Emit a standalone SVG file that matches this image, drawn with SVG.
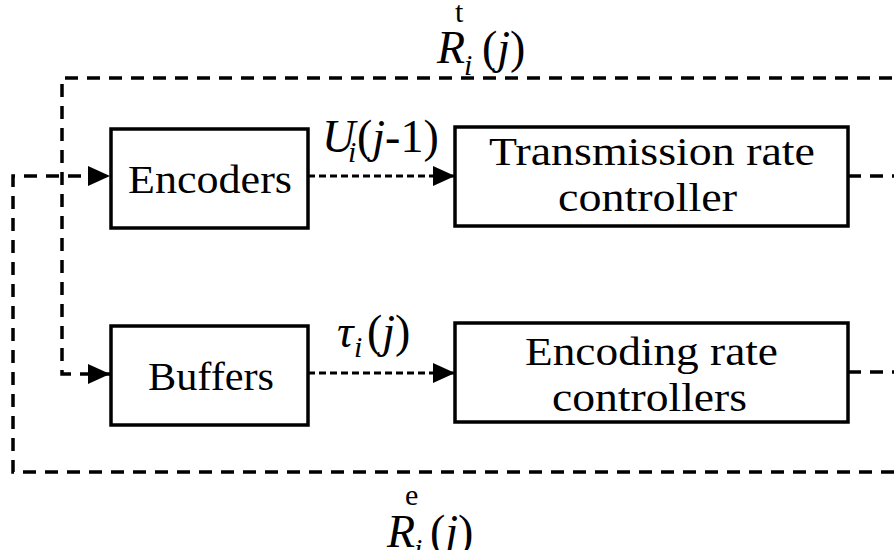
<svg xmlns="http://www.w3.org/2000/svg" width="894" height="550" viewBox="0 0 894 550">
<style>
.box{fill:#fff;stroke:#000;stroke-width:3.5}
.lbl{font-family:'Liberation Serif',serif;font-size:41px;fill:#000}
.math{font-family:'Liberation Serif',serif;font-size:46px;fill:#000}
.it{font-style:italic}
.sm{font-size:30px}
.dash{fill:none;stroke:#000;stroke-width:3.5;stroke-dasharray:13 9}
.dot{fill:none;stroke:#000;stroke-width:3;stroke-dasharray:7 4}
</style>
<defs>
<marker id="arr" viewBox="0 0 22 20" refX="22" refY="10" markerWidth="22" markerHeight="20" markerUnits="userSpaceOnUse" orient="auto">
<path d="M0,0 L22,10 L0,20 Z" fill="#000"/>
</marker>
</defs>
<rect width="894" height="550" fill="#fff"/>
<g id="connectors">
<path class="dash" d="M848,176 H920 V78 H62 V374 H110" marker-end="url(#arr)"/>
<path class="dash" d="M848,372 H920 V472 H13 V176 H110" marker-end="url(#arr)"/>
<path class="dot" d="M308,176 H455" marker-end="url(#arr)"/>
<path class="dot" d="M308,373 H455" marker-end="url(#arr)"/>
</g>
<g id="encoders">
<rect class="box" x="111" y="129" width="197" height="99"/>
<text class="lbl" x="128" y="193" textLength="164" lengthAdjust="spacingAndGlyphs">Encoders</text>
</g>
<g id="buffers">
<rect class="box" x="111" y="326" width="197" height="99"/>
<text class="lbl" x="148" y="390" textLength="126" lengthAdjust="spacingAndGlyphs">Buffers</text>
</g>
<g id="transmission">
<rect class="box" x="455" y="127" width="393" height="99"/>
<text class="lbl" x="489" y="165" textLength="326" lengthAdjust="spacingAndGlyphs">Transmission rate</text>
<text class="lbl" x="558" y="211" textLength="179" lengthAdjust="spacingAndGlyphs">controller</text>
</g>
<g id="encoding">
<rect class="box" x="455" y="323" width="393" height="99"/>
<text class="lbl" x="525" y="365" textLength="253" lengthAdjust="spacingAndGlyphs">Encoding rate</text>
<text class="lbl" x="552" y="411" textLength="195" lengthAdjust="spacingAndGlyphs">controllers</text>
</g>
<g id="label-Rt">
<text class="math"><tspan class="it" x="437" y="63">R</tspan><tspan class="sm" x="455" y="22">t</tspan><tspan class="it sm" x="464" y="75">i</tspan><tspan x="482" y="63">(</tspan><tspan class="it">j</tspan><tspan>)</tspan></text>
</g>
<g id="label-U">
<text class="math"><tspan class="it" x="322" y="152">U</tspan><tspan class="it sm" x="348" y="162">i</tspan><tspan x="357" y="152">(</tspan><tspan class="it">j</tspan><tspan>-1)</tspan></text>
</g>
<g id="label-tau">
<text class="math"><tspan class="it" x="337" y="347">τ</tspan><tspan class="it sm" x="354" y="357">i</tspan><tspan x="367" y="347">(</tspan><tspan class="it">j</tspan><tspan>)</tspan></text>
</g>
<g id="label-Re">
<text class="math"><tspan class="it" x="387" y="547">R</tspan><tspan class="sm" x="405" y="505">e</tspan><tspan class="it sm" x="414" y="559">i</tspan><tspan x="430" y="547">(</tspan><tspan class="it">j</tspan><tspan>)</tspan></text>
</g>
</svg>
